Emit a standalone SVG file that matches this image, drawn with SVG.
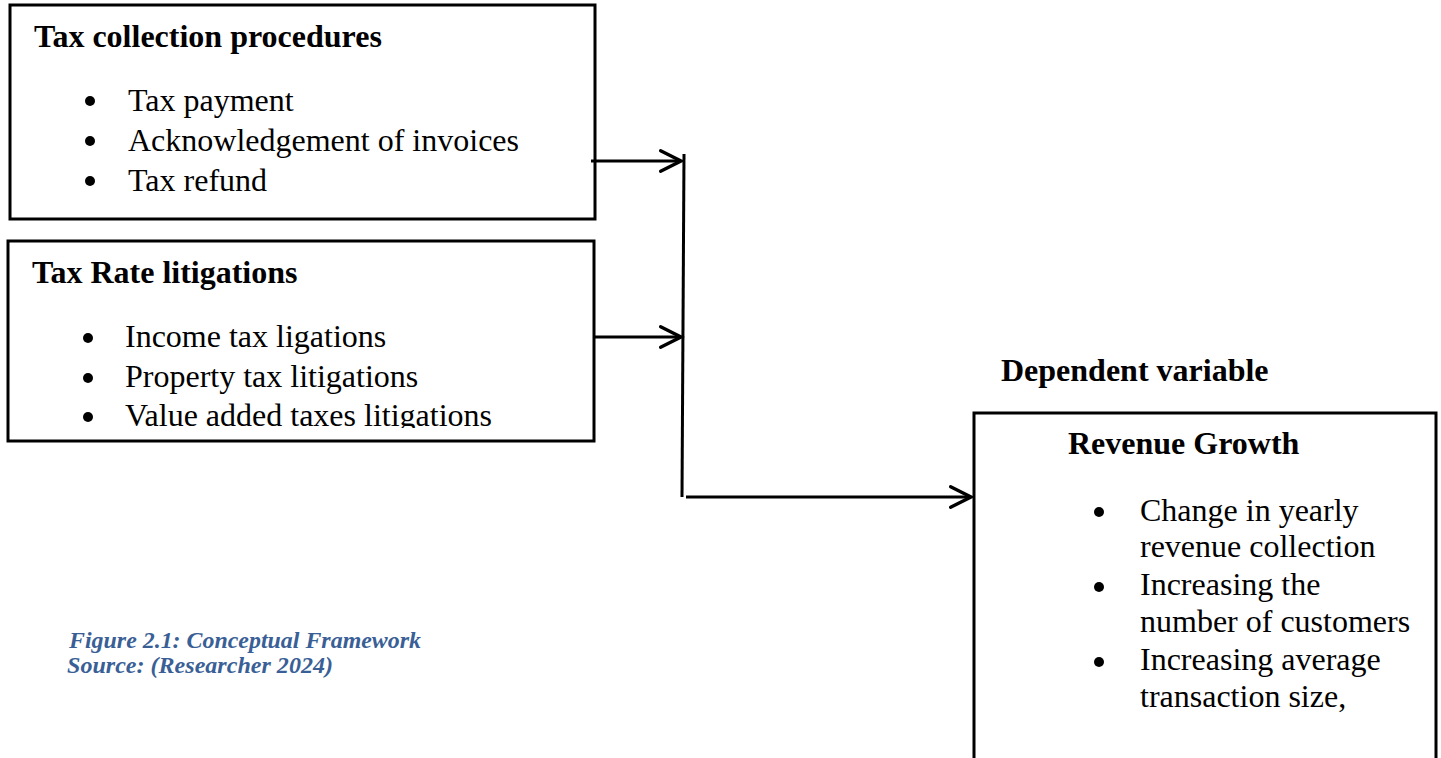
<svg xmlns="http://www.w3.org/2000/svg" width="1441" height="758" viewBox="0 0 1441 758">
<style>
.box{fill:#fff;stroke:#000;stroke-width:3}
.t{font-family:"Liberation Serif","Times New Roman",serif;font-size:32px;fill:#000}
.b{font-weight:bold}
.dot{fill:#000}
.con{fill:none;stroke:#000;stroke-width:3}
.cap{font-family:"Liberation Serif","Times New Roman",serif;font-size:23px;font-weight:bold;font-style:italic;fill:#3a5f96}
</style>
<defs>
<marker id="arr" markerUnits="userSpaceOnUse" markerWidth="30" markerHeight="30" viewBox="-24 -14 28 28" refX="0" refY="0" orient="auto">
<path d="M-19,-9.5 L0,0 L-19,9.5" fill="none" stroke="#000" stroke-width="3.2" stroke-linecap="round" stroke-linejoin="miter"/>
</marker>
<clipPath id="clip2"><rect x="0" y="240" width="600" height="188"/></clipPath>
</defs>

<g id="node-tax-collection">
<rect class="box" x="10" y="5" width="585" height="214"/>
<text class="t b" x="34" y="47">Tax collection procedures</text>
<circle class="dot" cx="90" cy="101" r="5"/>
<text class="t" x="128" y="111">Tax payment</text>
<circle class="dot" cx="90" cy="141" r="5"/>
<text class="t" x="128" y="151">Acknowledgement of invoices</text>
<circle class="dot" cx="90" cy="181" r="5"/>
<text class="t" x="128" y="191">Tax refund</text>
</g>

<g id="node-tax-rate">
<rect class="box" x="8" y="241" width="586" height="200"/>
<text class="t b" x="32" y="283">Tax Rate litigations</text>
<g clip-path="url(#clip2)">
<circle class="dot" cx="88" cy="338" r="5"/>
<text class="t" x="125" y="347">Income tax ligations</text>
<circle class="dot" cx="88" cy="378" r="5"/>
<text class="t" x="125" y="387">Property tax litigations</text>
<circle class="dot" cx="88" cy="417" r="5"/>
<text class="t" x="125" y="426">Value added taxes litigations</text>
</g>
</g>

<g id="node-dependent-label">
<text class="t b" x="1001" y="381">Dependent variable</text>
</g>

<g id="node-revenue-growth">
<rect class="box" x="974" y="413" width="462" height="350"/>
<text class="t b" x="1068" y="454">Revenue Growth</text>
<circle class="dot" cx="1099" cy="512" r="5"/>
<text class="t" x="1140" y="521">Change in yearly</text>
<text class="t" x="1140" y="557">revenue collection</text>
<circle class="dot" cx="1099" cy="587" r="5"/>
<text class="t" x="1140" y="595">Increasing the</text>
<text class="t" x="1140" y="632">number of customers</text>
<circle class="dot" cx="1099" cy="662" r="5"/>
<text class="t" x="1140" y="670">Increasing average</text>
<text class="t" x="1140" y="707">transaction size,</text>
</g>

<g id="node-caption">
<text class="cap" x="69" y="648" textLength="352" lengthAdjust="spacingAndGlyphs">Figure 2.1: Conceptual Framework</text>
<text class="cap" x="67" y="673" textLength="266" lengthAdjust="spacingAndGlyphs">Source: (Researcher 2024)</text>
</g>

<g id="connectors">
<line class="con" x1="591" y1="161" x2="681" y2="161" marker-end="url(#arr)"/>
<line class="con" x1="594" y1="337" x2="681" y2="337" marker-end="url(#arr)"/>
<line class="con" x1="684" y1="154" x2="682" y2="497"/>
<line class="con" x1="686" y1="497" x2="971" y2="497" marker-end="url(#arr)"/>
</g>
</svg>
